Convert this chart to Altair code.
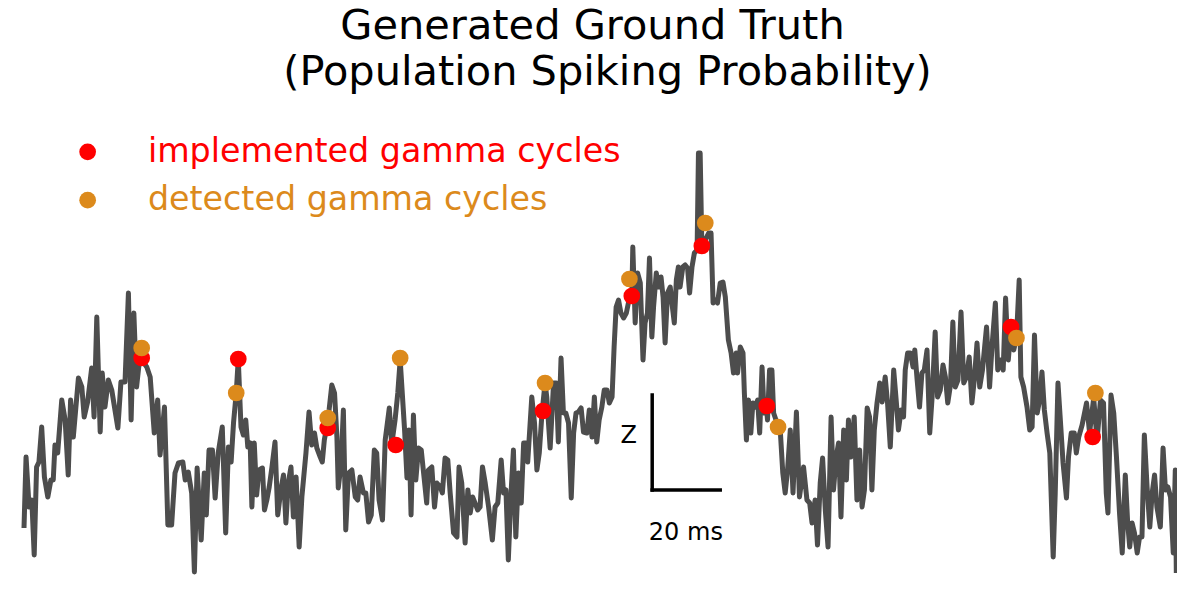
import altair as alt
import pandas as pd

# ---- data (time in ms, population spiking probability in a.u.; 95 a.u. = 1 Z) ----
time_ms = [
    0, 0.6, 1.5, 2.3, 3.0, 3.7, 4.4, 5.2, 6.0, 7.0, 7.9, 8.6, 9.1, 9.9, 11.1, 12.1, 13.0, 13.7,
    14.5, 16.0, 17.0, 17.7, 18.7, 19.9, 20.6, 21.4, 22.4, 23.0, 23.8, 24.8, 25.8, 27.6, 28.5,
    29.7, 30.7, 31.5, 32.3, 33.1, 33.8, 34.6, 36.1, 37.1, 38.3, 39.3, 40.0, 41.3, 42.3, 43.4,
    44.4, 45.4, 46.7, 47.4, 48.3, 49.3, 50.1, 50.9, 52.1, 53.0, 53.6, 54.4, 55.4, 56.2, 57.1,
    58.3, 59.3, 60.1, 60.9, 61.6, 62.4, 63.0, 63.8, 64.5, 65.2, 65.8, 66.5, 67.0, 67.7, 68.4,
    69.1, 70.1, 70.7, 71.4, 72.1, 72.9, 73.8, 74.6, 75.6, 76.3, 77.0, 77.7, 78.5, 79.2, 80.0,
    80.9, 81.7, 82.9, 83.8, 84.6, 85.4, 86.1, 87.1, 87.7, 88.3, 89.0, 89.7, 90.5, 91.3, 92.0,
    92.4, 93.2, 93.9, 94.6, 95.4, 96.4, 97.4, 98.1, 98.8, 99.8, 100.5, 101.3, 102.1, 103.0,
    103.7, 104.4, 105.4, 106.2, 107.4, 108.1, 109.1, 109.9, 110.6, 111.9, 112.6, 113.2, 113.8,
    114.5, 115.2, 116.0, 116.8, 117.4, 118.4, 118.9, 119.9, 120.7, 121.4, 122.4, 123.0, 123.8,
    124.6, 125.3, 126.3, 127.3, 127.9, 128.7, 129.7, 130.5, 131.2, 131.9, 132.6, 133.4, 134.1,
    134.8, 135.6, 136.6, 137.7, 138.5, 139.3, 140.3, 141.0, 141.7, 142.4, 143.2, 143.9, 144.6,
    145.4, 146.2, 146.9, 147.6, 148.1, 149.3, 150.1, 150.8, 151.5, 152.3, 153.2, 153.7, 154.7,
    155.7, 156.5, 157.1, 157.9, 158.6, 159.3, 160.1, 160.9, 161.6, 162.3, 163.0, 163.8, 164.5,
    165.5, 166.2, 167.0, 167.7, 168.4, 169.1, 169.9, 170.6, 171.4, 172.1, 172.9, 173.5, 174.1,
    174.8, 175.5, 176.3, 177.1, 177.7, 178.7, 179.0, 179.7, 180.4, 181.2, 182.0, 182.6, 183.3,
    183.9, 184.6, 185.1, 185.9, 186.6, 187.3, 187.9, 188.5, 189.2, 190.0, 190.5, 191.2, 191.8,
    192.4, 192.9, 193.7, 194.4, 195.1, 195.7, 196.4, 197.1, 197.9, 198.3, 198.8, 199.3, 200.3,
    201.3, 202.0, 202.6, 203.2, 203.9, 204.7, 205.5, 206.2, 207.1, 207.9, 208.6, 209.4, 209.8,
    210.6, 211.4, 211.8, 212.4, 213.0, 213.7, 214.3, 215.0, 215.7, 216.3, 217.0, 217.6, 218.2,
    218.6, 219.2, 219.9, 220.4, 221.4, 222.4, 223.1, 223.8, 224.5, 225.3, 226.1, 227.1, 228.0,
    229.2, 230.2, 231.0, 231.7, 232.6, 233.3, 234.1, 234.8, 235.6, 236.4, 237.3, 238.0, 238.8,
    239.5, 240.2, 241.0, 241.8, 242.4, 243.1, 244.1, 244.9, 245.7, 246.4, 247.1, 247.9, 248.6,
    249.3, 250.0, 250.8, 251.6, 252.3, 253.2, 253.9, 254.7, 255.7, 256.5, 257.1, 257.9, 258.6,
    259.1, 259.8, 260.6, 261.4, 261.9, 262.6, 263.3, 264.0, 264.7, 265.5, 266.3, 267.0, 267.9,
    268.6, 269.4, 270.2, 270.9, 271.6, 272.4, 273.1, 273.8, 274.6, 275.5, 276.3, 277.1, 277.9,
    278.7, 279.4, 280.2, 281.0, 281.8, 283.0, 283.9, 284.6, 285.6, 286.3, 287.1, 287.9, 288.6,
    289.4, 290.2, 291.0, 291.8, 292.6, 293.1, 293.9, 294.9, 295.7, 296.4, 297.1, 297.9, 298.6,
    299.3, 300.0, 300.8, 301.6, 302.6, 303.2, 304.0, 304.7, 305.5, 306.5, 307.1, 307.9, 308.8,
    309.4, 310.1, 311.1, 312.4, 313.3, 314.5, 315.5, 316.5, 317.4, 318.2, 318.7, 319.6, 320.4,
    321.2, 322.1, 322.9, 323.8, 324.5, 325.1, 325.8, 326.5, 327.3, 328.0, 328.7, 329.4, 330.2,
    331.0, 331.7, 332.4, 333.1, 334.1, 334.9, 335.6, 336.3, 337.1, 337.9, 338.5, 338.8,
]
spiking = [
    52, 123, 73, 80, 25, 113, 118, 153, 103, 83, 100, 100, 135, 127, 180, 160, 105, 180,
    143, 202, 193, 163, 178, 212, 163, 263, 148, 207, 173, 200, 190, 152, 198,
    198, 287, 160, 267, 193, 215, 220, 213, 203, 147, 180, 125, 173, 55, 55,
    107, 117, 118, 100, 108, 87, 8, 112, 40, 107, 65, 130, 130, 82, 127,
    153, 47, 133, 118, 157, 187, 221, 153, 145, 160, 133, 137, 73, 137, 85,
    110, 112, 70, 80, 93, 113, 138, 65, 92, 105, 57, 97, 113, 63, 103,
    33, 83, 127, 168, 135, 147, 132, 123, 118, 140, 153, 170, 195, 187, 143,
    92, 115, 170, 50, 107, 110, 83, 80, 103, 87, 87, 58, 65, 130,
    127, 80, 60, 140, 172, 135, 160, 187, 220, 150, 102, 150, 65,
    165, 100, 132, 130, 110, 77, 110, 113, 73, 97, 93, 87, 122,
    120, 87, 47, 43, 113, 97, 37, 90, 67, 83, 77, 70, 73,
    113, 97, 73, 40, 73, 77, 120, 87, 90, 20, 87, 130, 43,
    107, 77, 137, 137, 118, 183, 157, 110, 127, 167, 197, 183, 132,
    197, 197, 138, 222, 167, 167, 157, 82, 147, 167, 168, 172, 148,
    147, 170, 143, 183, 138, 160, 173, 190, 190, 177, 183, 233, 273,
    280, 267, 262, 267, 277, 284, 333, 257, 307, 297, 220, 257, 267,
    322, 243, 273, 307, 293, 303, 283, 237, 287, 293, 277, 257, 300,
    313, 293, 313, 315, 312, 287, 313, 327, 330, 427, 427, 334, 340,
    347, 347, 277, 280, 277, 297, 298, 283, 240, 227, 207, 227, 207,
    233, 227, 187, 140, 180, 147, 177, 173, 180, 147, 213, 167, 177,
    160, 210, 210, 167, 157, 147, 107, 87, 110, 150, 87, 168, 83,
    113, 80, 77, 57, 80, 35, 97, 122, 70, 33, 163, 90, 123,
    137, 63, 150, 100, 160, 123, 163, 80, 130, 73, 90, 172, 163,
    90, 150, 177, 197, 178, 203, 177, 133, 210, 177, 150, 170, 163,
    210, 227, 227, 213, 230, 200, 173, 207, 210, 230, 147, 183, 248,
    183, 190, 215, 203, 177, 195, 258, 193, 200, 268, 197, 203, 223,
    177, 200, 237, 193, 210, 253, 193, 233, 277, 210, 220, 210, 282,
    220, 253, 230, 242, 300, 203, 193, 173, 150, 153, 245, 167, 180,
    208, 170, 147, 127, 23, 87, 197, 160, 117, 82, 123, 147, 147,
    127, 143, 155, 177, 147, 182, 140, 180, 177, 87, 67, 185, 167,
    123, 67, 27, 105, 57, 33, 57, 47, 27, 43, 43, 145, 93,
    53, 87, 105, 73, 53, 132, 90, 93, 83, 27, 110, 7,
]

implemented_t = [34.6, 63.0, 89.3, 109.3, 152.6, 178.7, 199.3, 218.4, 290.2, 314.2]
implemented_v = [222, 221, 152, 135, 169, 284, 334, 174, 253, 143]
detected_t = [34.6, 62.4, 89.3, 110.6, 153.2, 178.0, 200.3, 221.7, 291.8, 315.0]
detected_v = [232, 187, 162, 222, 197, 301, 357, 153, 242, 187]

series_names = ["implemented gamma cycles", "detected gamma cycles"]
series_colors = ["#ff0000", "#dc8a1c"]

title_lines = ["Generated Ground Truth", "(Population Spiking Probability)"]

scalebar_t0 = 184.7      # ms
scalebar_v0 = 90         # a.u.
scalebar_ms = 20         # ms
scalebar_z = 95          # a.u. per Z
scale_labels = ["Z", "20 ms"]
scale_label_t = [177.8, 194.6]
scale_label_v = [136.7, 40]

FONT = "DejaVu Sans"

line_df = pd.DataFrame({"t": time_ms, "v": spiking})
impl_df = pd.DataFrame({"t": implemented_t, "v": implemented_v, "kind": series_names[0]})
det_df = pd.DataFrame({"t": detected_t, "v": detected_v, "kind": series_names[1]})
bar_df = pd.DataFrame({
    "t": [scalebar_t0, scalebar_t0],
    "t2": [scalebar_t0, scalebar_t0 + scalebar_ms],
    "v": [scalebar_v0, scalebar_v0],
    "v2": [scalebar_v0 + scalebar_z, scalebar_v0],
})
lab_df = pd.DataFrame({"t": scale_label_t, "v": scale_label_v, "text": scale_labels})

xs = alt.Scale(domain=[0, 339], nice=False, zero=False)
ys = alt.Scale(domain=[-10, 450], nice=False, zero=False)
X = alt.X("t:Q", scale=xs, axis=None)
Y = alt.Y("v:Q", scale=ys, axis=None)


def make_legend(color, ly):
    return alt.Legend(
        title=None, orient="none", legendX=47, legendY=ly,
        labelColor=color, labelFontSize=33.3, labelFont=FONT, labelLimit=1000,
        labelOffset=43.6, symbolType="circle", symbolSize=280, symbolOpacity=1,
        symbolStrokeWidth=0, padding=0,
    )


line = alt.Chart(line_df).mark_line(
    color="#4d4d4d", strokeWidth=5, strokeJoin="round"
).encode(x=X, y=Y)

impl = alt.Chart(impl_df).mark_circle(size=280, opacity=1).encode(
    x=X, y=Y,
    color=alt.Color("kind:N", scale=alt.Scale(domain=[series_names[0]], range=[series_colors[0]]),
                    legend=make_legend(series_colors[0], 5.2)),
)
det = alt.Chart(det_df).mark_circle(size=280, opacity=1).encode(
    x=X, y=Y,
    color=alt.Color("kind:N", scale=alt.Scale(domain=[series_names[1]], range=[series_colors[1]]),
                    legend=make_legend(series_colors[1], 53.5)),
)

bars = alt.Chart(bar_df).mark_rule(color="black", strokeWidth=3.5, strokeCap="square").encode(
    x=X, x2="t2:Q", y=Y, y2="v2:Q"
)

labels = alt.Chart(lab_df).mark_text(
    font=FONT, fontSize=24, baseline="alphabetic", align="center", color="black"
).encode(x=X, y=Y, text="text:N")


def title_text(line_text, cx, cy):
    return alt.Chart(pd.DataFrame({"text": [line_text]})).mark_text(
        font=FONT, fontSize=41.5, baseline="alphabetic", align="center", color="black"
    ).encode(x=alt.value(cx), y=alt.value(cy), text="text:N")


title1 = title_text(title_lines[0], 568.5, -91)
title2 = title_text(title_lines[1], 583.5, -45.5)

chart = alt.layer(line, impl, det, bars, labels, title1, title2).resolve_scale(
    color="independent"
).properties(
    width=1153,
    height=460,
    background="white",
    padding={"left": 16, "top": 122, "right": 0, "bottom": 0},
    autosize=alt.AutoSizeParams(type="none"),
).configure_view(stroke=None)

chart.save("out.html", embed_options={"renderer": "svg", "actions": False})
